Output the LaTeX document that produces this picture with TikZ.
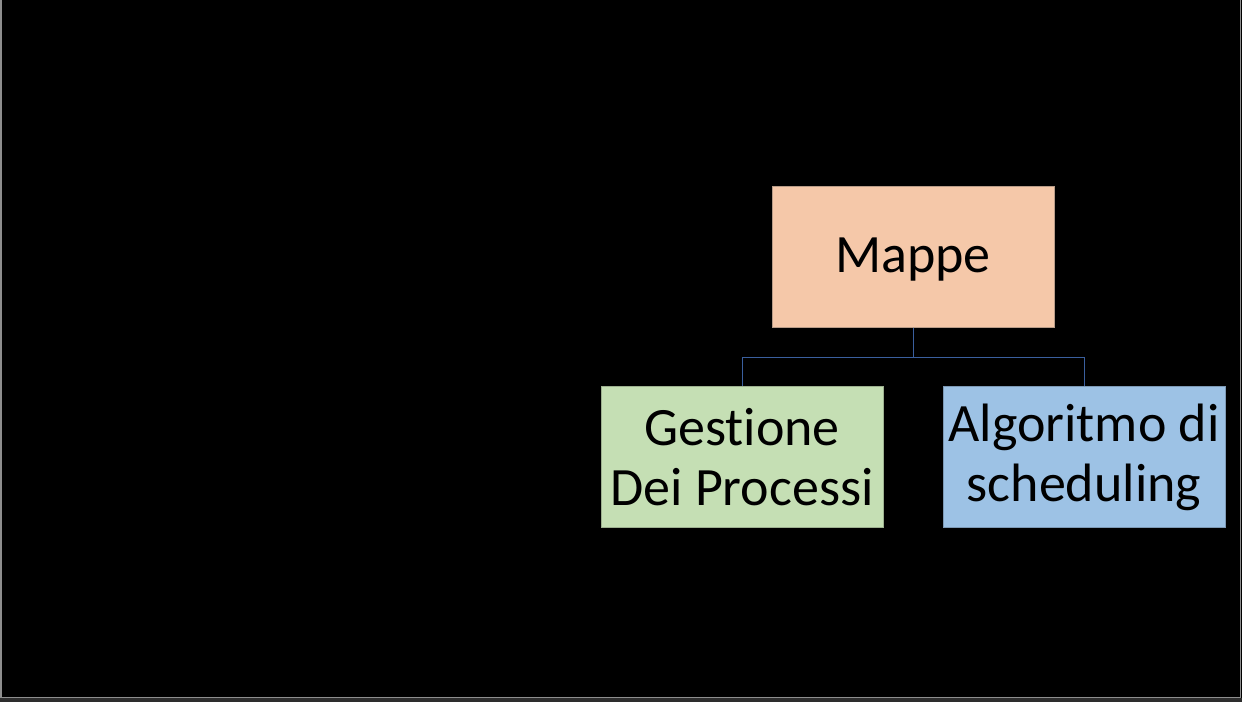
\documentclass[tikz,border=0pt]{standalone}
\usepackage{fontspec}
\setmainfont[Ligatures=CommonOff]{Carlito}
\definecolor{peach}{HTML}{F5C8A9}
\definecolor{peachline}{HTML}{B89C88}
\definecolor{leaf}{HTML}{C5DFB4}
\definecolor{leafline}{HTML}{9DB08F}
\definecolor{sky}{HTML}{9DC2E5}
\definecolor{skyline}{HTML}{7D99B5}
\definecolor{conn}{HTML}{3A5F9E}
\definecolor{frameline}{HTML}{8E8E8E}
\definecolor{strip}{HTML}{2D2D2D}
\begin{document}
\begin{tikzpicture}[x=1pt,y=-1pt,
  box/.style={rectangle, minimum width=282pt, minimum height=141pt, inner sep=0pt,
    line width=1pt, align=center, text=black, font=\fontsize{54}{60}\selectfont},
  link/.style={draw=conn, line width=1pt}]
\useasboundingbox (0,0) rectangle (1242,702);
\fill[black] (0,0) rectangle (1242,702);
\fill[strip] (0,698) rectangle (1242,702);
\draw[frameline, line width=1.5pt] (0.75,0) -- (0.75,697.25) -- (1240.25,697.25) -- (1240.25,0);
\node[box, fill=peach, draw=peachline, text height=40pt, text depth=9pt] (m) at (913,256.5) {Mappe};
\node[box, fill=leaf, draw=leafline] (g) at (742,457) {Gestione\\Dei Processi};
\node[box, fill=sky, draw=skyline] (a) at (1084,457) {Algoritmo di\\scheduling};
\draw[link] (m.south) -- ++(0,30) -| (g.north);
\draw[link] (m.south) -- ++(0,30) -| (a.north);
\end{tikzpicture}
\end{document}
